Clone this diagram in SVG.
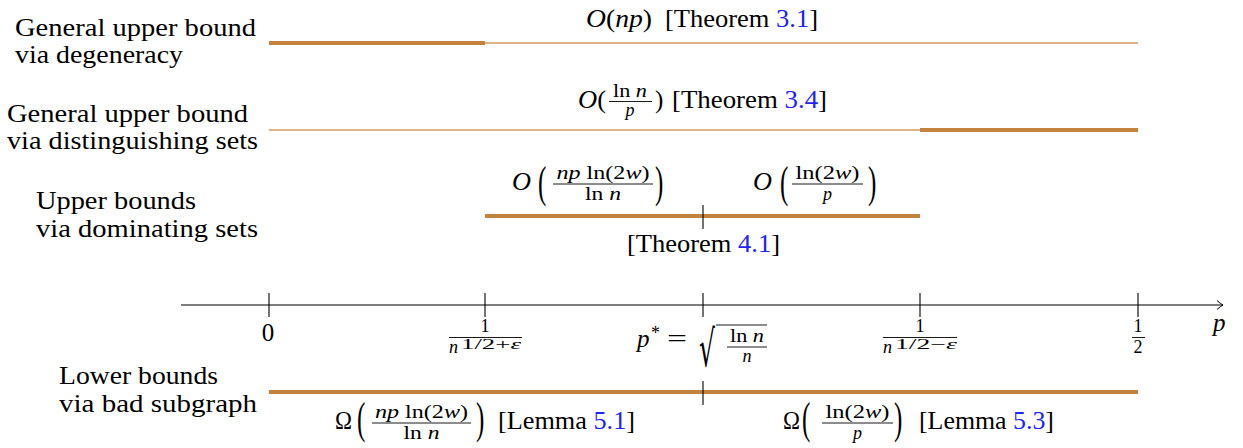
<svg xmlns="http://www.w3.org/2000/svg" width="1243" height="448" viewBox="0 0 1243 448">
<style>
text{font-family:"Liberation Serif","DejaVu Serif","Noto Serif",serif;fill:#000}
.lbl{font-size:26px}
.m{font-size:25px}
.s{font-size:18px}
.it{font-style:italic}
.ref{fill:#2222ff}
.thick{stroke:#c4823f;stroke-width:4;fill:none}
.thin{stroke:#d29a60;stroke-width:1.3;fill:none}
.tick{stroke:#000;stroke-width:1.1;fill:none}
.bar{stroke:#000;stroke-width:0.9}
.mid{text-anchor:middle}
</style>
<defs>
<marker id="arr" markerWidth="12" markerHeight="12" refX="0" refY="0" viewBox="-8 -6 10 12" markerUnits="userSpaceOnUse" orient="auto">
<path d="M-6,-4.5 Q-2.5,-1.2 0,0 Q-2.5,1.2 -6,4.5" fill="none" stroke="#000" stroke-width="1"/>
</marker>
</defs>

<g id="labels">
<text class="lbl" x="15" y="36" textLength="241" lengthAdjust="spacingAndGlyphs">General upper bound</text>
<text class="lbl" x="15" y="63" textLength="168" lengthAdjust="spacingAndGlyphs">via degeneracy</text>
<text class="lbl" x="7" y="122" textLength="241" lengthAdjust="spacingAndGlyphs">General upper bound</text>
<text class="lbl" x="7" y="149" textLength="251" lengthAdjust="spacingAndGlyphs">via distinguishing sets</text>
<text class="lbl" x="36" y="209" textLength="160" lengthAdjust="spacingAndGlyphs">Upper bounds</text>
<text class="lbl" x="36" y="237" textLength="222" lengthAdjust="spacingAndGlyphs">via dominating sets</text>
<text class="lbl" x="59" y="384" textLength="159" lengthAdjust="spacingAndGlyphs">Lower bounds</text>
<text class="lbl" x="59" y="412" textLength="198" lengthAdjust="spacingAndGlyphs">via bad subgraph</text>
</g>

<g id="connectors">
<line class="thick" x1="269" y1="43" x2="485" y2="43"/>
<line class="thin" x1="485" y1="43" x2="1138" y2="43"/>
<line class="thin" x1="269" y1="130" x2="920" y2="130"/>
<line class="thick" x1="920" y1="130" x2="1138" y2="130"/>
<line class="thick" x1="485" y1="216" x2="920" y2="216"/>
<line class="tick" x1="703" y1="205" x2="703" y2="229"/>
<line class="thick" x1="269" y1="392" x2="1138" y2="392"/>
<line class="tick" x1="703" y1="381" x2="703" y2="405"/>
</g>

<g id="row-degeneracy">
<text class="m" x="586" y="27" textLength="66" lengthAdjust="spacingAndGlyphs"><tspan class="it">O</tspan>(<tspan class="it">np</tspan>)</text>
<text class="m" x="665" y="27" textLength="153" lengthAdjust="spacingAndGlyphs">[Theorem <tspan class="ref">3.1</tspan>]</text>
</g>

<g id="row-distinguishing">
<text class="m" x="578" y="108" textLength="28" lengthAdjust="spacingAndGlyphs"><tspan class="it">O</tspan>(</text>
<text class="s mid" x="630" y="97" textLength="34" lengthAdjust="spacingAndGlyphs">ln <tspan class="it">n</tspan></text>
<line class="bar" x1="609" y1="101.5" x2="652" y2="101.5"/>
<text class="s mid it" x="630" y="116">p</text>
<text class="m" x="655" y="108">)</text>
<text class="m" x="672" y="108" textLength="155" lengthAdjust="spacingAndGlyphs">[Theorem <tspan class="ref">3.4</tspan>]</text>
</g>

<g id="row-dominating">
<text class="m it" x="512" y="190" textLength="19" lengthAdjust="spacingAndGlyphs">O</text>
<text class="m" transform="translate(538,197.4) scale(1,1.74)">(</text>
<text class="s mid" x="603" y="179" textLength="93" lengthAdjust="spacingAndGlyphs"><tspan class="it">np</tspan> ln(2<tspan class="it">w</tspan>)</text>
<line class="bar" x1="553" y1="184" x2="653" y2="184"/>
<text class="s mid" x="603" y="200" textLength="36" lengthAdjust="spacingAndGlyphs">ln <tspan class="it">n</tspan></text>
<text class="m" transform="translate(655,197.4) scale(1,1.74)">)</text>
<text class="m it" x="753" y="190" textLength="19" lengthAdjust="spacingAndGlyphs">O</text>
<text class="m" transform="translate(780,197.4) scale(1,1.74)">(</text>
<text class="s mid" x="827.5" y="179" textLength="64" lengthAdjust="spacingAndGlyphs">ln(2<tspan class="it">w</tspan>)</text>
<line class="bar" x1="792" y1="184" x2="863" y2="184"/>
<text class="s mid it" x="827.5" y="200">p</text>
<text class="m" transform="translate(868,197.4) scale(1,1.74)">)</text>
<text class="m" x="627" y="252" textLength="153" lengthAdjust="spacingAndGlyphs">[Theorem <tspan class="ref">4.1</tspan>]</text>
</g>

<g id="axis">
<line x1="181" y1="305" x2="1223" y2="305" stroke="#000" stroke-width="1" marker-end="url(#arr)"/>
<line class="tick" x1="269" y1="293" x2="269" y2="317"/>
<line class="tick" x1="485" y1="293" x2="485" y2="317"/>
<line class="tick" x1="703" y1="293" x2="703" y2="317"/>
<line class="tick" x1="920" y1="293" x2="920" y2="317"/>
<line class="tick" x1="1138" y1="293" x2="1138" y2="317"/>
<text class="m it" x="1213" y="331">p</text>
<text class="m mid" x="268" y="341">0</text>

<text class="mid" style="font-size:18px" x="485" y="332">1</text>
<line class="bar" x1="449" y1="337.5" x2="522" y2="337.5"/>
<text class="it" style="font-size:18px" x="449" y="353">n</text>
<text style="font-size:14px" x="461" y="349" textLength="60" lengthAdjust="spacingAndGlyphs">1/2+<tspan class="it">ε</tspan></text>

<text class="m it" x="637" y="347">p</text>
<text class="s" x="651" y="339">*</text>
<text class="m" x="667" y="347" textLength="20" lengthAdjust="spacingAndGlyphs">=</text>
<text class="m" style="font-family:'DejaVu Serif',serif" transform="translate(699,365.5) scale(1,2.0)">√</text>
<line class="bar" x1="716" y1="325" x2="767" y2="325"/>
<text class="s mid" x="747" y="342" textLength="34" lengthAdjust="spacingAndGlyphs">ln <tspan class="it">n</tspan></text>
<line class="bar" x1="727" y1="347" x2="767" y2="347"/>
<text class="s mid it" x="747" y="362">n</text>

<text class="mid" style="font-size:18px" x="920" y="332">1</text>
<line class="bar" x1="883" y1="337.5" x2="957" y2="337.5"/>
<text class="it" style="font-size:18px" x="883" y="353">n</text>
<text style="font-size:14px" x="895" y="349" textLength="62" lengthAdjust="spacingAndGlyphs">1/2−<tspan class="it">ε</tspan></text>

<text class="mid" style="font-size:18px" x="1138" y="332">1</text>
<line class="bar" x1="1132" y1="337.5" x2="1145" y2="337.5"/>
<text class="mid" style="font-size:18px" x="1138" y="353">2</text>
</g>

<g id="row-lower">
<text class="m" x="335" y="429" textLength="17" lengthAdjust="spacingAndGlyphs">Ω</text>
<text class="m" transform="translate(357,432.9) scale(1,1.74)">(</text>
<text class="s mid" x="421.5" y="418" textLength="93" lengthAdjust="spacingAndGlyphs"><tspan class="it">np</tspan> ln(2<tspan class="it">w</tspan>)</text>
<line class="bar" x1="372" y1="423" x2="471" y2="423"/>
<text class="s mid" x="421.5" y="439" textLength="36" lengthAdjust="spacingAndGlyphs">ln <tspan class="it">n</tspan></text>
<text class="m" transform="translate(476,432.9) scale(1,1.74)">)</text>
<text class="m" x="498" y="429" textLength="137" lengthAdjust="spacingAndGlyphs">[Lemma <tspan class="ref">5.1</tspan>]</text>

<text class="m" x="783" y="429" textLength="17" lengthAdjust="spacingAndGlyphs">Ω</text>
<text class="m" transform="translate(802,432.9) scale(1,1.74)">(</text>
<text class="s mid" x="857.5" y="418" textLength="64" lengthAdjust="spacingAndGlyphs">ln(2<tspan class="it">w</tspan>)</text>
<line class="bar" x1="822" y1="423" x2="893" y2="423"/>
<text class="s mid it" x="857.5" y="439">p</text>
<text class="m" transform="translate(894,432.9) scale(1,1.74)">)</text>
<text class="m" x="919" y="429" textLength="135" lengthAdjust="spacingAndGlyphs">[Lemma <tspan class="ref">5.3</tspan>]</text>
</g>
</svg>
